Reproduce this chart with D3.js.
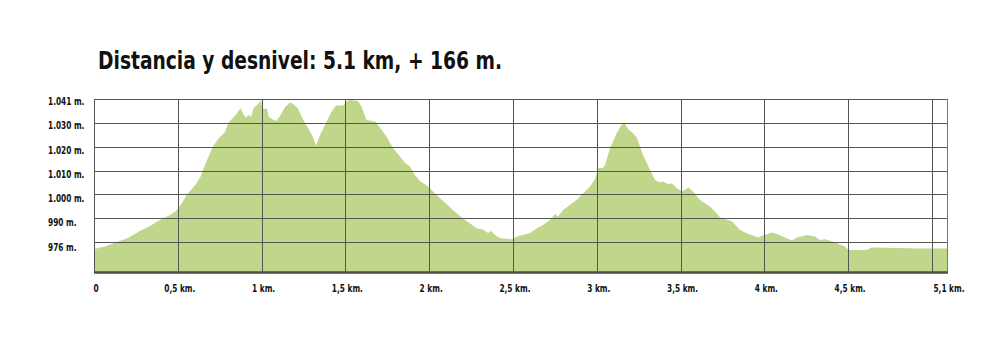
<!DOCTYPE html>
<html>
<head>
<meta charset="utf-8">
<script src="https://cdn.jsdelivr.net/npm/d3@7"></script>
<style>
  body { margin: 0; background: #fff; }
  text { font-family: "DejaVu Sans Condensed", "Liberation Sans", sans-serif; font-weight: bold; fill: #111; }
</style>
</head>
<body>
<svg id="chart" width="1000" height="350"></svg>
<script>
// distance along the route (km)
const distKm = [
  0, 0.066, 0.143, 0.203, 0.274, 0.334, 0.394, 0.454, 0.489, 0.525,
  0.555, 0.609, 0.638, 0.650, 0.680, 0.710, 0.746, 0.782, 0.800, 0.823,
  0.853, 0.874, 0.892, 0.907, 0.922, 0.937, 0.952, 0.973, 0.997, 1.005,
  1.032, 1.044, 1.068, 1.089, 1.110, 1.140, 1.170, 1.193, 1.217, 1.235,
  1.259, 1.289, 1.310, 1.325, 1.349, 1.387, 1.417, 1.444, 1.486, 1.507,
  1.528, 1.575, 1.596, 1.626, 1.677, 1.707, 1.745, 1.784, 1.826, 1.856,
  1.886, 1.915, 1.945, 1.993, 2.023, 2.083, 2.142, 2.202, 2.244, 2.286,
  2.321, 2.351, 2.369, 2.393, 2.423, 2.447, 2.494, 2.524, 2.560, 2.602,
  2.641, 2.679, 2.721, 2.751, 2.769, 2.799, 2.840, 2.882, 2.918, 2.960,
  2.990, 3.010, 3.037, 3.049, 3.079, 3.118, 3.148, 3.163, 3.186, 3.216,
  3.240, 3.276, 3.318, 3.348, 3.377, 3.395, 3.425, 3.449, 3.479, 3.509,
  3.527, 3.545, 3.575, 3.616, 3.676, 3.706, 3.736, 3.766, 3.808, 3.855,
  3.897, 3.933, 3.962, 3.992, 4.046, 4.082, 4.123, 4.165, 4.195, 4.255,
  4.302, 4.332, 4.362, 4.410, 4.451, 4.481, 4.502, 4.613, 4.637, 4.732,
  4.929, 5.09
];

// elevation (m)
const elevM = [
  977.1, 978.2, 980.3, 981.7, 984.7, 986.8, 989.3, 991.4, 993.1, 996.4,
  1000.0, 1004.4, 1007.7, 1010.2, 1015.3, 1020.1, 1023.7, 1026.2, 1029.9, 1031.6,
  1033.9, 1036.2, 1033.5, 1032.2, 1033.3, 1032.5, 1036.2, 1037.5, 1039.4, 1036.0,
  1035.8, 1032.5, 1031.4, 1030.8, 1032.9, 1036.6, 1038.5, 1037.7, 1036.0, 1033.3,
  1029.9, 1026.4, 1023.4, 1020.5, 1024.9, 1030.4, 1034.6, 1037.3, 1037.3, 1039.0,
  1039.6, 1039.2, 1036.9, 1031.2, 1030.6, 1027.9, 1024.3, 1019.5, 1015.9, 1013.2,
  1011.7, 1008.2, 1005.6, 1003.3, 1001.2, 997.3, 993.5, 989.9, 987.8, 985.7,
  985.3, 983.8, 984.7, 983.0, 981.7, 981.5, 981.2, 982.4, 983.0, 983.8,
  985.7, 987.2, 989.3, 991.8, 990.8, 993.5, 995.6, 997.9, 1000.4, 1003.3,
  1006.5, 1011.1, 1011.1, 1012.3, 1019.3, 1025.5, 1029.1, 1030.2, 1027.4, 1025.8,
  1023.7, 1016.5, 1010.2, 1006.1, 1005.0, 1005.4, 1004.4, 1004.6, 1002.5, 1001.4,
  1001.9, 1002.9, 1001.2, 997.7, 995.0, 992.9, 990.3, 989.7, 988.7, 985.1,
  983.6, 982.8, 982.0, 982.8, 984.1, 983.2, 982.0, 980.7, 982.0, 983.0,
  982.4, 980.9, 981.2, 980.3, 979.0, 978.2, 976.7, 976.7, 977.8, 977.7,
  977.4, 977.4
];

const xTicks = [0, 0.5, 1, 1.5, 2, 2.5, 3, 3.5, 4, 4.5, 5];
const xTickLabels = ["0", "0,5 km.", "1 km.", "1,5 km.", "2 km.", "2,5 km.", "3 km.", "3,5 km.", "4 km.", "4,5 km.", "5,1 km."];
const yTicks = [980, 990, 1000, 1010, 1020, 1030, 1040];
const yTickLabels = ["976 m.", "990 m.", "1.000 m.", "1.010 m.", "1.020 m.", "1.030 m.", "1.041 m."];
const title = "Distancia y desnivel: 5.1 km, + 166 m.";

const svg = d3.select("#chart");
const plotLeft = 94, plotRight = 947, plotTop = 99, plotBottom = 272;

const x = d3.scaleLinear().domain([0, 5.09]).range([plotLeft, plotRight]);
const y = d3.scaleLinear().domain([967.5, 1040]).range([plotBottom, plotTop]);

const data = distKm.map((d, i) => ({ km: d, m: elevM[i] }));

// squeeze text to look like a condensed face
const squeeze = (sel, k) => {
  sel.each(function () {
    const w = this.getComputedTextLength();
    d3.select(this).attr("textLength", w * k).attr("lengthAdjust", "spacingAndGlyphs");
  });
};

// title
svg.append("text")
  .attr("x", 98)
  .attr("y", 69)
  .style("font-size", "24px")
  .attr("textLength", 404)
  .attr("lengthAdjust", "spacingAndGlyphs")
  .text(title);

// profile area
const area = d3.area()
  .x(d => x(d.km))
  .y0(plotBottom)
  .y1(d => y(d.m));

svg.append("path")
  .datum(data)
  .attr("d", area)
  .style("fill", "#bfd68b");

// horizontal grid lines
svg.append("g")
  .selectAll("line")
  .data(yTicks)
  .join("line")
  .attr("x1", plotLeft)
  .attr("x2", plotRight)
  .attr("y1", d => Math.round(y(d)) + 0.5)
  .attr("y2", d => Math.round(y(d)) + 0.5)
  .style("stroke", "#555")
  .style("stroke-width", 1);

// vertical grid lines
svg.append("g")
  .selectAll("line")
  .data(xTicks)
  .join("line")
  .attr("x1", d => Math.round(x(d)) + 0.5)
  .attr("x2", d => Math.round(x(d)) + 0.5)
  .attr("y1", plotTop)
  .attr("y2", plotBottom)
  .style("stroke", "#555")
  .style("stroke-width", 1);

// right border
svg.append("line")
  .attr("x1", plotRight + 0.5).attr("x2", plotRight + 0.5)
  .attr("y1", plotTop).attr("y2", plotBottom)
  .style("stroke", "#777");

// baseline
svg.append("line")
  .attr("x1", plotLeft).attr("x2", plotRight + 1)
  .attr("y1", plotBottom + 0.5).attr("y2", plotBottom + 0.5)
  .style("stroke", "#4d5040")
  .style("stroke-width", 2.5);

// y labels
svg.append("g")
  .selectAll("text")
  .data(yTicks)
  .join("text")
  .attr("x", 48)
  .attr("y", (d, i) => y(d) + 6 + (6 - i) * 0.4)
  .style("font-size", "10px")
  .text((d, i) => yTickLabels[i])
  .call(squeeze, 0.82);

// x labels
const xLabelPos = xTicks.map((d, i) => (i === xTicks.length - 1 ? 5.09 : d));
svg.append("g")
  .selectAll("text")
  .data(xLabelPos)
  .join("text")
  .attr("x", d => x(d) + 2)
  .attr("y", 292)
  .attr("text-anchor", "middle")
  .style("font-size", "10px")
  .text((d, i) => xTickLabels[i])
  .call(squeeze, 0.82);
</script>
</body>
</html>
